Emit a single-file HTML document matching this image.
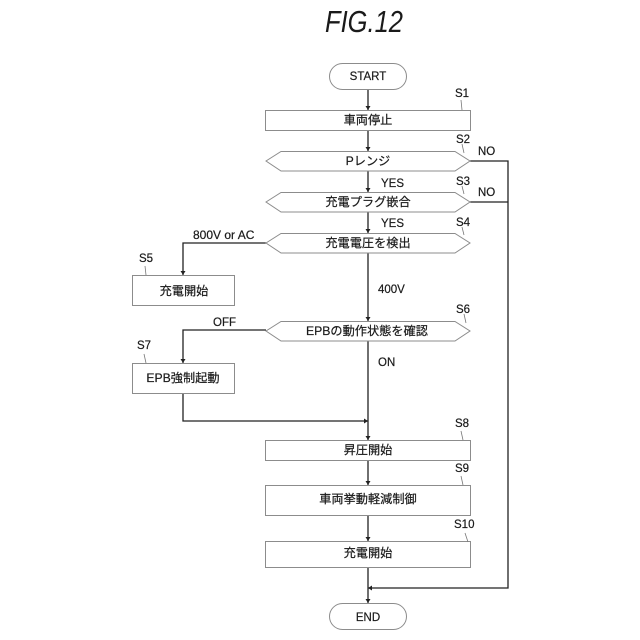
<!DOCTYPE html>
<html><head><meta charset="utf-8"><style>
html,body{margin:0;padding:0;background:#fff}
svg{display:block}
text{font-family:"Liberation Sans","Noto Sans CJK JP",sans-serif;font-size:11.5px;fill:#1a1a1a;stroke:#1a1a1a;stroke-width:.2}
.m{text-anchor:middle}
.c{font-size:12.2px}
.b{fill:#fff;stroke:#8c8c8c;stroke-width:1}
.l{fill:none;stroke:#222;stroke-width:1.3}
.t{fill:none;stroke:#777;stroke-width:.8}
.a{fill:#222}
</style></head><body>
<svg width="640" height="640" viewBox="0 0 640 640" xmlns="http://www.w3.org/2000/svg">
<text x="325" y="32" textLength="78" lengthAdjust="spacingAndGlyphs" style="font-size:31px;font-style:italic;stroke-width:0">FIG.12</text>

<path class="l" d="M368 89V110M368 130V151M368 171V192M368 212V233M368 253V321M368 341V440M368 460V485M368 515V541M368 567V603"/>
<path class="l" d="M266 243H183V275M266 330H183V363M183 393V421H368M470 161H508V588H368M470 202H508"/>
<path class="a" d="M365.500 106h5l-2.500 4zM365.500 147h5l-2.500 4zM365.500 188h5l-2.500 4zM365.500 229h5l-2.500 4zM365.500 317h5l-2.500 4zM365.500 436h5l-2.500 4zM365.500 481h5l-2.500 4zM365.500 537h5l-2.500 4zM365.500 599h5l-2.500 4zM180.500 271h5l-2.500 4zM180.500 359h5l-2.500 4zM364 418.500v5l4-2.500zM372 585.500v5l-4-2.500z"/>

<rect class="b" x="329.500" y="63.500" width="77" height="26" rx="13"/>
<rect class="b" x="329.500" y="603.500" width="77" height="26" rx="13"/>
<rect class="b" x="265.500" y="110.500" width="205" height="20"/>
<polygon class="b" points="266,161 281,151.500 455,151.500 470,161 455,171 281,171"/>
<polygon class="b" points="266,202 281,192.500 455,192.500 470,202 455,212 281,212"/>
<polygon class="b" points="266,243 281,233.500 455,233.500 470,243 455,253 281,253"/>
<polygon class="b" points="266,331 281,321.500 455,321.500 470,331 455,341 281,341"/>
<rect class="b" x="132.500" y="275.500" width="102" height="30"/>
<rect class="b" x="132.500" y="363.500" width="102" height="30"/>
<rect class="b" x="265.500" y="440.500" width="205" height="20"/>
<rect class="b" x="265.500" y="485.500" width="205" height="30"/>
<rect class="b" x="265.500" y="541.500" width="205" height="26"/>

<path class="t" d="M461 100l1 10M462 144l2 9M462 186l2 8M462 227l2 8M464 314l2 9M461 431l2 9M461 476l2 9M465 533l3 9M145 266l1 9M144 354l2 9"/>

<text x="368" y="80" class="m">START</text>
<text x="368" y="621" class="m">END</text>
<text x="368" y="124" class="m c">車両停止</text>
<text x="368" y="165" class="m c">Pレンジ</text>
<text x="368" y="206" class="m c">充電プラグ嵌合</text>
<text x="368" y="247" class="m c">充電電圧を検出</text>
<text x="367" y="335" class="m c">EPBの動作状態を確認</text>
<text x="184" y="295" class="m c">充電開始</text>
<text x="183" y="382" class="m c">EPB強制起動</text>
<text x="368" y="454" class="m c">昇圧開始</text>
<text x="368" y="503" class="m c">車両挙動軽減制御</text>
<text x="368" y="557" class="m c">充電開始</text>

<text x="381" y="187">YES</text>
<text x="381" y="227">YES</text>
<text x="478" y="155">NO</text>
<text x="478" y="196">NO</text>
<text x="193" y="239" style="font-size:12px">800V or AC</text>
<text x="378" y="293">400V</text>
<text x="213" y="326">OFF</text>
<text x="378" y="366">ON</text>
<text x="455" y="97">S1</text>
<text x="456" y="143">S2</text>
<text x="456" y="185">S3</text>
<text x="456" y="226">S4</text>
<text x="139" y="262">S5</text>
<text x="456" y="313">S6</text>
<text x="137" y="349">S7</text>
<text x="455" y="427">S8</text>
<text x="455" y="472">S9</text>
<text x="454" y="528">S10</text>
</svg>
</body></html>
